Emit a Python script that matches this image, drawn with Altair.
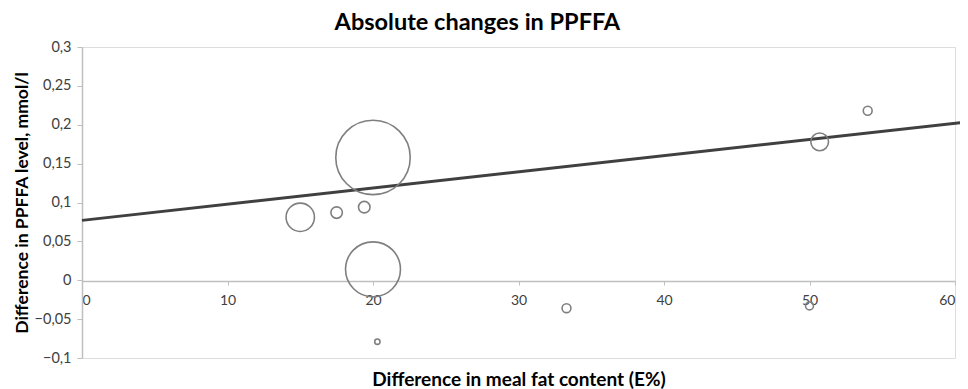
import altair as alt
import pandas as pd

# Bubble data
fat_diff = [15.0, 17.5, 19.4, 20.0, 20.0, 20.3, 33.3, 50.0, 50.7, 54.0]
ppffa_diff = [0.081, 0.087, 0.094, 0.158, 0.014, -0.079, -0.036, -0.033, 0.178, 0.218]
weight = [256, 42, 42, 1764, 961, 9, 25, 20, 100, 25]

# Trend line endpoints
trend_x = [0, 60.6]
trend_y = [0.077, 0.203]

# Axis tick values
x_ticks = [0, 10, 20, 30, 40, 50, 60]
y_ticks = [-0.1, -0.05, 0, 0.05, 0.1, 0.15, 0.2, 0.25, 0.3]

pts = pd.DataFrame({"x": fat_diff, "y": ppffa_diff, "w": weight})
trend = pd.DataFrame({"x": trend_x, "y": trend_y})

FONT = "Lato"
xscale = alt.Scale(domain=[0, 60], nice=False, zero=False)
yscale = alt.Scale(domain=[-0.1, 0.3], nice=False, zero=False)

x_axis = alt.Axis(
    title="Difference in meal fat content (E%)",
    values=x_ticks, labelOverlap=False,
    offset=-77, grid=False, domainColor="#bfbfbf", domainWidth=1.5,
    tickColor="#bfbfbf", tickSize=4, labelPadding=8,
    labelFont=FONT, labelFontSize=14, labelColor="#404040",
    titleFont=FONT, titleFontSize=19, titleFontWeight="bold", titleColor="#000000",
    titleY=89, titleBaseline="top")
y_axis = alt.Axis(
    title="Difference in PPFFA level, mmol/l",
    values=y_ticks, labelOverlap=False, tickCount=9,
    labelExpr="replace(format(datum.value, '.2~f'), '.', ',')",
    grid=False, domainColor="#bfbfbf", domainWidth=1.5,
    tickColor="#bfbfbf", tickSize=5, labelPadding=6,
    labelFont=FONT, labelFontSize=14.5, labelColor="#404040",
    titleFont=FONT, titleFontSize=17.5, titleFontWeight="bold", titleColor="#000000",
    titlePadding=3)

bubbles = alt.Chart(pts).mark_circle(
    filled=False, stroke="#7f7f7f", strokeWidth=1.6, opacity=1
).encode(
    x=alt.X("x:Q", scale=xscale, axis=x_axis),
    y=alt.Y("y:Q", scale=yscale, axis=y_axis),
    size=alt.Size("w:Q", scale=alt.Scale(domain=[0, 1764], range=[0, 5542], zero=True), legend=None),
)

line = alt.Chart(trend).mark_line(color="#404040", strokeWidth=3, clip=False).encode(
    x=alt.X("x:Q", scale=xscale, axis=x_axis),
    y=alt.Y("y:Q", scale=yscale, axis=y_axis),
)

chart = alt.layer(line, bubbles).properties(
    width=873, height=311,
    title=alt.TitleParams("Absolute changes in PPFFA", font=FONT, fontSize=23.5, fontWeight="bold",
                          color="#000000", anchor="middle", frame="bounds", offset=5, dx=-14),
    padding={"left": 74, "top": 39, "right": 5, "bottom": 31},
    autosize=alt.AutoSizeParams(type="none"),
).configure_view(stroke=None).configure_axis(labelOverlap=False).configure(background="white")

chart.save("out.html", embed_options={"renderer": "svg", "actions": False})
